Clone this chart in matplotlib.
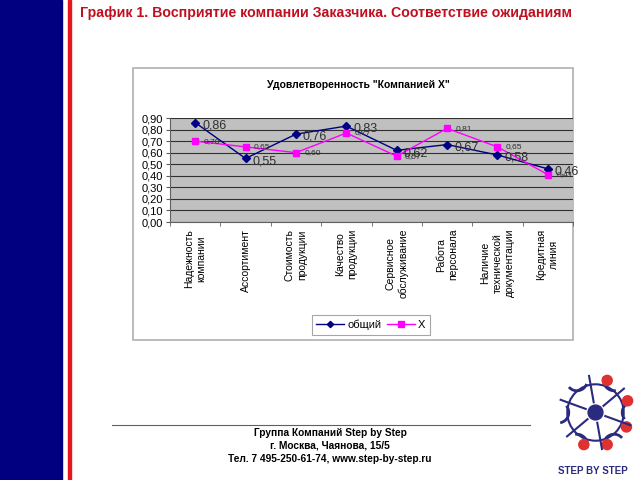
import matplotlib
matplotlib.use("Agg")
import matplotlib.pyplot as plt
import numpy as np
from matplotlib.patches import Rectangle, Circle, Arc

plt.rcParams['font.family'] = ['Liberation Sans', 'DejaVu Sans']

categories = ["Надежность\nкомпании", "Ассортимент", "Стоимость\nпродукции",
              "Качество\nпродукции", "Сервисное\nобслуживание", "Работа\nперсонала",
              "Наличие\nтехнической\nдокументации", "Кредитная\nлиния"]
total = [0.86, 0.55, 0.76, 0.83, 0.62, 0.67, 0.58, 0.46]
company_x = [0.70, 0.65, 0.60, 0.77, 0.57, 0.81, 0.65, 0.41]
series_names = ["общий", "X"]

W, H = 640, 480
fig = plt.figure(figsize=(6.4, 4.8), dpi=100)


def fx(px):
    return px / W


def fy(py):
    return 1 - py / H


# left band and red rule
fig.patches.append(Rectangle((0, 0), fx(62), 1, transform=fig.transFigure,
                             color='#000080', zorder=0))
fig.patches.append(Rectangle((fx(68), 0), fx(3), 1, transform=fig.transFigure,
                             color='#e8141e', zorder=0))

fig.text(fx(80), fy(13), "График 1. Восприятие компании Заказчика. Соответствие ожиданиям",
         color='#c01020', fontsize=10.2, fontweight='bold', va='center', ha='left')

# chart frame
fig.patches.append(Rectangle((fx(133), fy(340)), fx(573 - 133), (340 - 68) / H,
                             transform=fig.transFigure, facecolor='white',
                             edgecolor='#b0b0b0', lw=1.2, zorder=-1))
fig.text(fx(358), fy(85), 'Удовлетворенность "Компанией X"', fontsize=7.5,
         fontweight='bold', ha='center', va='center')

ax = fig.add_axes([fx(170), fy(222), fx(573 - 170), (222 - 118) / H])
ax.set_zorder(2)
ax.set_facecolor('#c0c0c0')
x = np.arange(len(categories))
ax.plot(x, total, color='#000080', marker='D', markersize=4, lw=1, label=series_names[0],
        zorder=3)
ax.plot(x, company_x, color='#ff00ff', marker='s', markersize=5, lw=1, label=series_names[1],
        zorder=3)
for xi, v in zip(x, total):
    ax.annotate(f"{v:.2f}".replace('.', ','), (xi, v), xytext=(5, -2),
                textcoords='offset points', fontsize=9, color='#303030', va='center',
                annotation_clip=False)
for xi, v in zip(x, company_x):
    ax.annotate(f"{v:.2f}".replace('.', ','), (xi, v), xytext=(6, 0),
                textcoords='offset points', fontsize=6, color='#303030', va='center',
                annotation_clip=False)

ax.set_xlim(-0.5, len(categories) - 0.5)
ax.set_ylim(0, 0.9)
ax.set_yticks(np.arange(0, 0.91, 0.1))
ax.set_yticklabels([f"{t:.2f}".replace('.', ',') for t in np.arange(0, 0.91, 0.1)],
                   fontsize=8)
ax.yaxis.grid(True, color='#303030', lw=0.8)
ax.set_axisbelow(True)
ax.set_xticks(x)
ax.set_xticklabels(categories, rotation=90, fontsize=7.5, va='top', ha='center',
                   multialignment='center', linespacing=1.3)
ax.tick_params(axis='x', length=0, pad=5)
ax.set_xticks(np.arange(-0.5, len(categories)), minor=True)
ax.tick_params(axis='x', which='minor', length=3, color='#606060')
ax.tick_params(axis='y', length=3, color='#606060', pad=2)
for s in ['top', 'right']:
    ax.spines[s].set_visible(False)
for s in ['left', 'bottom']:
    ax.spines[s].set_color('#606060')

leg = fig.legend(loc='center', bbox_to_anchor=(fx(371), fy(325)), ncol=2, fontsize=8,
                 frameon=True, fancybox=False, edgecolor='#909090', handlelength=2.5,
                 columnspacing=0.5, handletextpad=0.3, borderpad=0.4, markerscale=0.8)
leg.get_frame().set_linewidth(0.8)

# footer
fig.add_artist(plt.Line2D([fx(112), fx(530)], [fy(425), fy(425)], color='#606060', lw=0.8,
                          transform=fig.transFigure))
footer = ["Группа Компаний Step by Step", "г. Москва, Чаянова, 15/5",
          "Тел. 7 495-250-61-74, www.step-by-step.ru"]
for i, line in enumerate(footer):
    fig.text(fx(330), fy(433 + i * 13), line, fontsize=7.3, fontweight='bold',
             ha='center', va='center')

# logo
lg = fig.add_axes([fx(548), fy(465), fx(95), 105 / H])
lg.set_zorder(2)
lg.set_xlim(-1.6, 1.6)
lg.set_ylim(-1.6, 1.6)
lg.set_aspect('equal')
lg.axis('off')
lg.add_patch(Circle((0, 0), 0.95, fill=False, color='#2a2a80', lw=1.5))
lg.add_patch(Circle((0, 0), 0.25, color='#2a2a80'))
for k in range(6):
    a = np.deg2rad(100 + k * 60)
    lg.plot([0.35 * np.cos(a), 1.25 * np.cos(a)], [0.35 * np.sin(a), 1.25 * np.sin(a)],
            color='#2a2a80', lw=1.5)
    cx, cy = 1.25 * np.cos(a + 0.35), 1.25 * np.sin(a + 0.35)
    lg.add_patch(Arc((cx, cy), 0.7, 0.7, angle=np.rad2deg(a) + 120, theta1=0, theta2=120,
                     color='#2a2a80', lw=2))
for ang in [70, 20, -25, -70, -110]:
    a = np.deg2rad(ang)
    lg.add_patch(Circle((1.15 * np.cos(a), 1.15 * np.sin(a)), 0.17, color='#e03030'))
fig.text(fx(593), fy(471), "STEP BY STEP", fontsize=7, fontweight='bold',
         color='#2a2a80', ha='center', va='center')

fig.savefig("out.png", dpi=100)
